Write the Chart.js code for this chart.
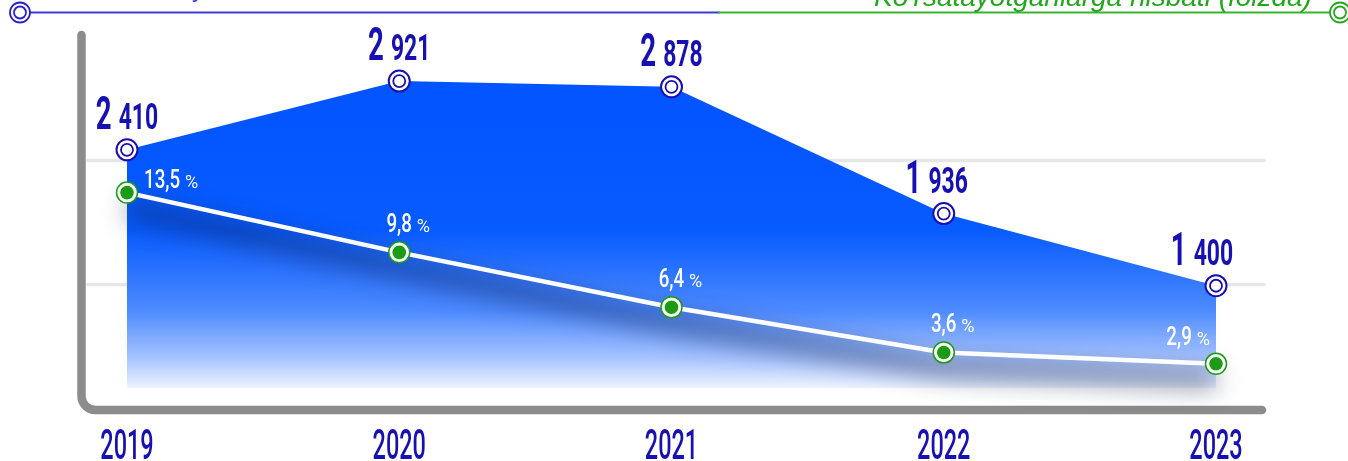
<!DOCTYPE html>
<html>
<head>
<meta charset="utf-8">
<script src="https://cdn.jsdelivr.net/npm/chart.js@4.4.1/dist/chart.umd.min.js"></script>
<style>
  html, body { margin: 0; padding: 0; background: #fff; }
  #wrap { width: 1348px; height: 461px; }
</style>
</head>
<body>
<div id="wrap"><canvas id="chart" width="1348" height="461"></canvas></div>
<script>
// ── Data ─────────────────────────────────────────────────────────
var years  = ['2019', '2020', '2021', '2022', '2023'];
var counts = [2410, 2921, 2878, 1936, 1400];
var shares = [13.5, 9.8, 6.4, 3.6, 2.9];
var legendLeft  = 'Ishsiz yoshlar soni';
var legendRight = "Ko'rsatayotganlarga nisbati (foizda)";

var DARK  = '#1710b2';
var GREEN = '#1b9c12';
var FONT  = 'Roboto, "DejaVu Sans", sans-serif';

// ── Helpers ──────────────────────────────────────────────────────
function textWidth(ctx, text, size, weight, sx) {
    ctx.save();
    ctx.font = weight + ' ' + size + 'px ' + FONT;
    var w = ctx.measureText(text).width * sx;
    ctx.restore();
    return w;
}

// draws text squeezed horizontally (condensed look), left edge at x
function squeezed(ctx, text, x, y, size, weight, color, sx) {
    ctx.save();
    ctx.font = weight + ' ' + size + 'px ' + FONT;
    ctx.fillStyle = color;
    ctx.textAlign = 'left';
    ctx.textBaseline = 'alphabetic';
    ctx.translate(x, y);
    ctx.scale(sx, 1);
    ctx.fillText(text, 0, 0);
    ctx.restore();
}

function ring(ctx, x, y, r, lw, color, fill) {
    ctx.beginPath();
    ctx.arc(x, y, r, 0, Math.PI * 2);
    if (fill) { ctx.fillStyle = fill; ctx.fill(); }
    ctx.lineWidth = lw;
    ctx.strokeStyle = color;
    ctx.stroke();
}

// ── Decorations plugin ───────────────────────────────────────────
var decor = {
    id: 'decor',
    beforeDatasetsDraw: function (chart) {
        var ctx = chart.ctx, ca = chart.chartArea;
        ctx.save();

        // grid lines
        ctx.lineCap = 'round';
        ctx.strokeStyle = '#e6e6e6';
        ctx.lineWidth = 3.5;
        [0.354, 0.706].forEach(function (f) {
            var y = ca.top + (ca.bottom - ca.top) * f;
            ctx.beginPath();
            ctx.moveTo(ca.left - 39, y);
            ctx.lineTo(ca.right + 48, y);
            ctx.stroke();
        });

        // L-shaped axis frame
        ctx.strokeStyle = '#8c8c8c';
        ctx.lineWidth = 8.5;
        ctx.beginPath();
        ctx.moveTo(ca.left - 45.5, ca.top - 1);
        ctx.arcTo(ca.left - 45.5, ca.bottom + 22, ca.right, ca.bottom + 22, 14);
        ctx.lineTo(ca.right + 46, ca.bottom + 22);
        ctx.stroke();

        // legend strip at the top (its text is cut off by the top edge)
        var ly = 12.5;
        ctx.lineWidth = 2;
        ctx.strokeStyle = '#3b3bd6';
        ctx.beginPath(); ctx.moveTo(30, ly); ctx.lineTo(719, ly); ctx.stroke();
        ctx.strokeStyle = '#35b52f';
        ctx.beginPath(); ctx.moveTo(719, ly); ctx.lineTo(1330, ly); ctx.stroke();
        ring(ctx, 20, ly, 10, 1.8, '#2a22cc', '#fff');
        ring(ctx, 20, ly, 6, 1.8, '#2a22cc');
        ring(ctx, 1340, ly, 10, 1.8, '#26a820', '#fff');
        ring(ctx, 1340, ly, 6, 1.8, '#26a820');

        ctx.textBaseline = 'alphabetic';
        ctx.font = '24px Arial, "Liberation Sans", sans-serif';
        ctx.fillStyle = '#4444dd';
        ctx.textAlign = 'left';
        ctx.fillText(legendLeft, 124, -3);
        ctx.fillStyle = '#22a61c';
        ctx.textAlign = 'right';
        ctx.font = 'italic 28px Arial, "Liberation Sans", sans-serif';
        ctx.fillText(legendRight, 1312, 6);
        ctx.restore();
    },
    beforeDatasetDraw: function (chart, args) {
        if (args.index !== 1) return;
        // soft drop shadow under the white line
        var ctx = chart.ctx;
        var pts = chart.getDatasetMeta(1).data;
        ctx.save();
        ctx.filter = 'blur(12px)';
        ctx.strokeStyle = 'rgba(20, 30, 70, 0.5)';
        ctx.lineWidth = 18;
        ctx.lineJoin = 'round';
        ctx.beginPath();
        pts.forEach(function (p, i) {
            if (i === 0) ctx.moveTo(p.x, p.y + 16);
            else ctx.lineTo(p.x, p.y + 16);
        });
        ctx.stroke();
        ctx.restore();
    },
    afterDatasetsDraw: function (chart) {
        var ctx = chart.ctx, ca = chart.chartArea;
        var bluePts  = chart.getDatasetMeta(0).data;
        var greenPts = chart.getDatasetMeta(1).data;
        var last = counts.length - 1;

        // inner rings of the markers
        bluePts.forEach(function (p) { ring(ctx, p.x, p.y, 6, 1.8, DARK); });
        greenPts.forEach(function (p) {
            ctx.beginPath();
            ctx.arc(p.x, p.y, 6.8, 0, Math.PI * 2);
            ctx.fillStyle = GREEN;
            ctx.fill();
        });

        // blue value labels: "2 410"
        counts.forEach(function (v, i) {
            var p = bluePts[i];
            var big = String(Math.floor(v / 1000));
            var small = String(v % 1000).padStart(3, '0');
            var w1 = textWidth(ctx, big, 46, 'bold', 0.6);
            var w2 = textWidth(ctx, small, 37, 'bold', 0.62);
            var gap = 7;
            var cx = p.x + (i === last ? -14 : (i === 3 ? -7 : 0));
            var x0 = cx - (w1 + gap + w2) / 2;
            var y = p.y - 21;
            squeezed(ctx, big, x0, y, 46, 'bold', DARK, 0.6);
            squeezed(ctx, small, x0 + w1 + gap, y, 37, 'bold', DARK, 0.62);
        });

        // white percentage labels: "9,8 %"
        shares.forEach(function (v, i) {
            var p = greenPts[i];
            var num = v.toFixed(1).replace('.', ',');
            var w1 = textWidth(ctx, num, 26, '500', 0.72);
            var w2 = textWidth(ctx, '%', 19, '400', 0.95);
            var gap = 5;
            var tot = w1 + gap + w2;
            var x0, y;
            if (i === 0)         { x0 = p.x + 17;          y = p.y - 5; }
            else if (i === last) { x0 = p.x - 6 - tot;     y = p.y - 19; }
            else                 { x0 = p.x + 9 - tot / 2; y = p.y - 20; }
            squeezed(ctx, num, x0, y, 26, '500', '#fff', 0.72);
            squeezed(ctx, '%', x0 + w1 + gap, y, 19, '400', '#fff', 0.95);
        });

        // year labels under the axis
        var xs = chart.scales.x;
        years.forEach(function (yr, i) {
            var x = xs.getPixelForValue(i);
            var w = textWidth(ctx, yr, 42, '500', 0.56);
            squeezed(ctx, yr, x - w / 2, ca.bottom + 71, 42, '500', DARK, 0.56);
        });
    }
};

// ── Chart ────────────────────────────────────────────────────────
var canvas = document.getElementById('chart');

new Chart(canvas, {
    type: 'line',
    data: {
        labels: years,
        datasets: [{
            label: legendLeft,
            data: counts,
            yAxisID: 'y',
            order: 2,
            fill: 'start',
            tension: 0,
            clip: false,
            borderColor: 'rgba(0,0,0,0)',
            borderWidth: 0,
            backgroundColor: function (c) {
                var ca = c.chart.chartArea;
                if (!ca) return '#0056ff';
                var g = c.chart.ctx.createLinearGradient(0, ca.top, 0, ca.bottom);
                g.addColorStop(0,    '#0052ff');
                g.addColorStop(0.55, '#075bff');
                g.addColorStop(0.78, '#4d8aff');
                g.addColorStop(0.92, '#aac6ff');
                g.addColorStop(1,    '#eef3ff');
                return g;
            },
            pointRadius: 10.5,
            pointHoverRadius: 10.5,
            pointBackgroundColor: '#fff',
            pointBorderColor: DARK,
            pointBorderWidth: 2
        }, {
            label: legendRight,
            data: shares,
            yAxisID: 'y1',
            order: 1,
            fill: false,
            tension: 0,
            clip: false,
            borderColor: '#fff',
            borderWidth: 4.5,
            pointRadius: 10.5,
            pointHoverRadius: 10.5,
            pointBackgroundColor: '#fff',
            pointBorderColor: GREEN,
            pointBorderWidth: 1.5
        }]
    },
    options: {
        responsive: false,
        animation: false,
        events: [],
        layout: { padding: { left: 127, right: 132, top: 36, bottom: 73 } },
        plugins: {
            legend: { display: false },
            tooltip: { enabled: false }
        },
        scales: {
            x:  { display: false, offset: false },
            y:  { display: false, min: 640, max: 3256 },
            y1: { display: false, min: 1.4, max: 23.2 }
        }
    },
    plugins: [decor]
});
</script>
</body>
</html>
